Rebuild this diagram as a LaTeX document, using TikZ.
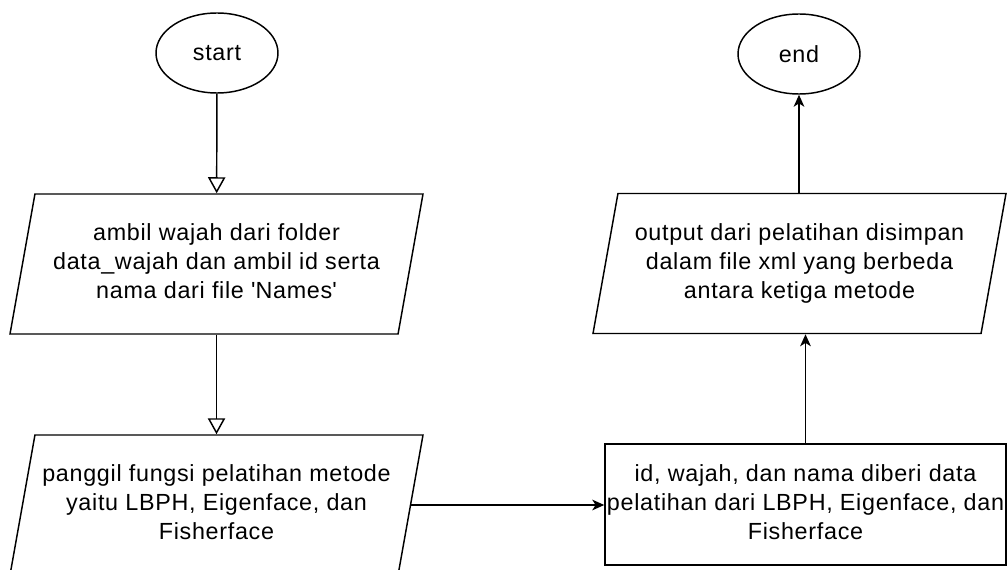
\documentclass[tikz,border=0pt]{standalone}
\usepackage{fontspec}
\setmainfont{Liberation Sans}[LetterSpace=3]
\usetikzlibrary{positioning,shapes.geometric,arrows.meta}
\newcommand{\lines}[1]{\makebox[0pt]{\begin{tabular}{@{}c@{}}#1\end{tabular}}}

\begin{document}
\begin{tikzpicture}[
      x=0.75pt, y=-0.75pt,
      every node/.style={font=\fontsize{17.5}{21.75}\selectfont},
      term/.style={draw, ellipse, line width=1.1pt, minimum width=91.5pt, minimum height=60pt, inner sep=0pt},
      io/.style={draw, trapezium, trapezium left angle=74, trapezium right angle=106, trapezium stretches body=true, line width=1.1pt, minimum width=309.75pt, minimum height=105pt, inner sep=0pt},
      proc/.style={draw, rectangle, line width=1.1pt, minimum width=300.75pt, minimum height=90.75pt, inner sep=0pt},
      hollow/.style={-{Triangle[open, length=12pt, width=13pt]}, line width=1.1pt},
      arrow/.style={-{Stealth[length=9pt, width=8pt, inset=2.5pt]}, line width=1.1pt}
    ]
    \useasboundingbox (0,0) rectangle (1007,570);
    \node[term] (start) at (217,53) {start};
    \node[io] (load) at (216.5,264) {\lines{ambil wajah dari folder\\data\_wajah dan ambil id serta\\nama dari file \textquotesingle Names\textquotesingle}};
    \node[io] (call) at (216.5,505) {\lines{panggil fungsi pelatihan metode\\yaitu LBPH, Eigenface, dan\\Fisherface}};
    \node[proc] (train) at (805.5,504.5) {\lines{id, wajah, dan nama diberi data\\pelatihan dari LBPH, Eigenface, dan\\Fisherface}};
    \node[io] (save) at (799.5,263.5) {\lines{output dari pelatihan disimpan\\dalam file xml yang berbeda\\antara ketiga metode}};
    \node[term] (stop) at (799,54) {end};

    \draw[hollow] (start) -- (load);
    \draw[hollow] (load) -- (call);
    \draw[arrow] (call.east) -- (train.west |- call.east);
    \draw[arrow] (train.north) -- (train.north |- save.south);
    \draw[arrow] (stop.south |- save.north) -- (stop.south);
  \end{tikzpicture}
\end{document}
